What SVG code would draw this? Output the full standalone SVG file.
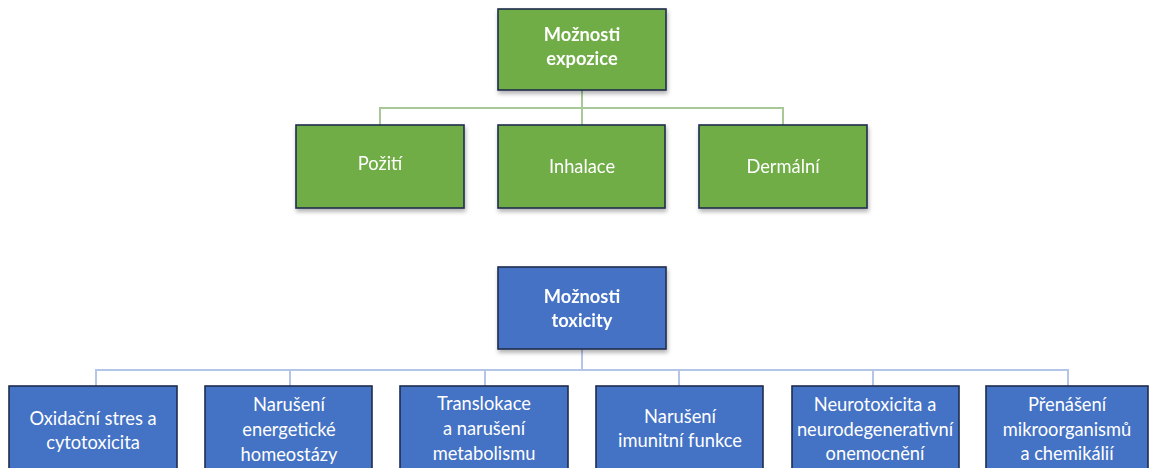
<svg xmlns="http://www.w3.org/2000/svg" width="1151" height="468" viewBox="0 0 1151 468">
<style>
.g{fill:#70AD47;stroke:#1F2D4E;stroke-width:1.6}
.b{fill:#4472C4;stroke:#1F2D4E;stroke-width:1.6}
.t{font-family:Lato,"Liberation Sans",sans-serif;font-size:18.3px;fill:#FFFFFF;text-anchor:middle}
.tb{font-weight:bold}
.cg{fill:none;stroke:#A8C897;stroke-width:2}
.cb{fill:none;stroke:#B4C6E7;stroke-width:2}
</style>
<defs>
<filter id="sh" x="-10%" y="-10%" width="120%" height="130%">
<feDropShadow dx="1" dy="3" stdDeviation="2" flood-color="#000" flood-opacity="0.3"/>
</filter>
</defs>
<g id="connectors">
<path class="cg" d="M582 90 V108 M380 125 V108 H783 V125 M582 108 V125"/>
<path class="cb" d="M582 349 V370 M96 386 V370 H1068 V386 M290 370 V386 M485 370 V386 M679 370 V386 M873 370 V386"/>
</g>
<g id="expozice" filter="url(#sh)"><rect class="g" x="498" y="9" width="168" height="81"/>
<text class="t tb" x="582" y="41">Možnosti</text><text class="t tb" x="582" y="65">expozice</text></g>
<g id="pozit" filter="url(#sh)"><rect class="g" x="296" y="125" width="168" height="83"/>
<text class="t" x="380" y="170">Požití</text></g>
<g id="inhalace" filter="url(#sh)"><rect class="g" x="498" y="125" width="167" height="83"/>
<text class="t" x="582" y="173">Inhalace</text></g>
<g id="dermalni" filter="url(#sh)"><rect class="g" x="699" y="125" width="168" height="83"/>
<text class="t" x="783" y="173">Dermální</text></g>
<g id="toxicity" filter="url(#sh)"><rect class="b" x="498" y="267" width="168" height="82"/>
<text class="t tb" x="582" y="303">Možnosti</text><text class="t tb" x="582" y="327">toxicity</text></g>
<g id="oxid"><rect class="b" x="9" y="386" width="168" height="100"/>
<text class="t" x="93" y="425">Oxidační stres a</text><text class="t" x="93" y="449">cytotoxicita</text></g>
<g id="energ"><rect class="b" x="205" y="386" width="167" height="100"/>
<text class="t" x="289" y="411">Narušení</text><text class="t" x="289" y="436">energetické</text><text class="t" x="289" y="461">homeostázy</text></g>
<g id="transl"><rect class="b" x="400" y="386" width="168" height="100"/>
<text class="t" x="484" y="410">Translokace</text><text class="t" x="484" y="435">a narušení</text><text class="t" x="484" y="460">metabolismu</text></g>
<g id="imun"><rect class="b" x="596" y="386" width="167" height="100"/>
<text class="t" x="680" y="423">Narušení</text><text class="t" x="680" y="447">imunitní funkce</text></g>
<g id="neuro"><rect class="b" x="792" y="386" width="167" height="100"/>
<text class="t" x="875" y="411">Neurotoxicita a</text><text class="t" x="875" y="436">neurodegenerativní</text><text class="t" x="875" y="460">onemocnění</text></g>
<g id="prenaseni"><rect class="b" x="986" y="386" width="162" height="100"/>
<text class="t" x="1067" y="411">Přenášení</text><text class="t" x="1067" y="436">mikroorganismů</text><text class="t" x="1067" y="460">a chemikálií</text></g>
</svg>
